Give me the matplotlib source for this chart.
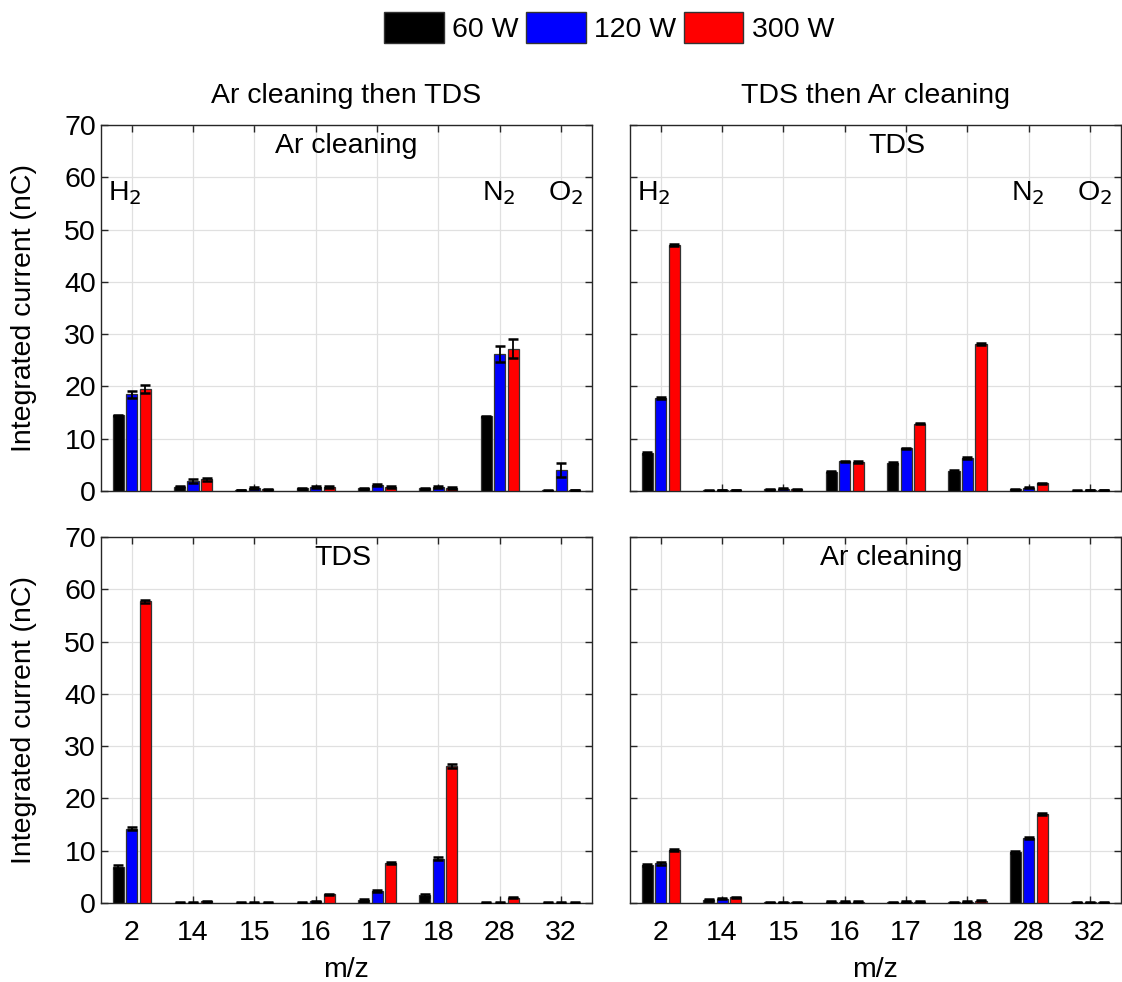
import numpy as np
import matplotlib
matplotlib.use('Agg')
import matplotlib.pyplot as plt
from matplotlib.patches import Patch

plt.rcParams['font.family'] = ['Liberation Sans', 'DejaVu Sans']

# Данные
mz_labels = ['2', '14', '15', '16', '17', '18', '28', '32']
powers = ['60 W', '120 W', '300 W']
colors = ['#000000', '#0000ff', '#ff0000']

# Ar cleaning then TDS: Ar cleaning
ar1_60 = [14.5, 0.85, 0.15, 0.5, 0.5, 0.5, 14.3, 0.1]
ar1_120 = [18.5, 1.9, 0.5, 0.85, 1.1, 0.8, 26.2, 4.0]
ar1_300 = [19.5, 2.2, 0.3, 0.85, 0.85, 0.65, 27.2, 0.15]
ar1_err_60 = [0.1, 0.1, 0.05, 0.05, 0.05, 0.05, 0.1, 0.05]
ar1_err_120 = [0.7, 0.3, 0.2, 0.2, 0.2, 0.2, 1.6, 1.4]
ar1_err_300 = [0.7, 0.2, 0.1, 0.2, 0.2, 0.2, 1.8, 0.05]

# Ar cleaning then TDS: TDS
tds1_60 = [6.9, 0.05, 0.05, 0.05, 0.5, 1.5, 0.0, 0.05]
tds1_120 = [14.2, 0.05, 0.05, 0.3, 2.25, 8.5, 0.0, 0.05]
tds1_300 = [57.7, 0.3, 0.05, 1.7, 7.6, 26.2, 1.0, 0.05]
tds1_err = [0.3, 0.05, 0.05, 0.1, 0.2, 0.3, 0.1, 0.05]

# TDS then Ar cleaning: TDS
tds2_60 = [7.2, 0.1, 0.3, 3.7, 5.35, 3.8, 0.3, 0.05]
tds2_120 = [17.8, 0.15, 0.45, 5.7, 8.15, 6.25, 0.65, 0.15]
tds2_300 = [47.0, 0.15, 0.3, 5.55, 12.9, 28.1, 1.45, 0.15]
tds2_err = [0.2, 0.05, 0.1, 0.1, 0.15, 0.2, 0.1, 0.05]

# TDS then Ar cleaning: Ar cleaning
ar2_60 = [7.2, 0.65, 0.1, 0.25, 0.1, 0.1, 9.75, 0.1]
ar2_120 = [7.55, 0.85, 0.1, 0.25, 0.25, 0.25, 12.45, 0.1]
ar2_300 = [10.05, 1.05, 0.1, 0.25, 0.25, 0.4, 17.0, 0.1]
ar2_err = [0.2, 0.1, 0.05, 0.05, 0.05, 0.1, 0.25, 0.05]

x = np.arange(1, len(mz_labels) + 1)
width = 0.18
offset = 0.22
fs = 20.5

fig = plt.figure(figsize=(11.22, 9.82), dpi=100)
ax_tl = fig.add_axes([0.090, 0.500, 0.4375, 0.3727])
ax_tr = fig.add_axes([0.5615, 0.500, 0.4375, 0.3727])
ax_bl = fig.add_axes([0.090, 0.0805, 0.4375, 0.3727])
ax_br = fig.add_axes([0.5615, 0.0805, 0.4375, 0.3727])


def draw_panel(ax, series, errors, label, label_x):
    for i, (vals, err) in enumerate(zip(series, errors)):
        pos = x + (i - 1) * offset
        ax.bar(pos, vals, width=width, color=colors[i], edgecolor='#333333',
               linewidth=0.9, zorder=3)
        ax.errorbar(pos, vals, yerr=err, fmt='none', ecolor='black',
                    elinewidth=1.3, capsize=3.6, capthick=1.8, zorder=4)
    ax.set_xlim(0.5, 8.5)
    ax.set_ylim(0, 70)
    ax.set_xticks(x)
    ax.set_yticks(np.arange(0, 71, 10))
    ax.grid(True, color='#e0e0e0', linewidth=0.9, zorder=0)
    ax.set_axisbelow(True)
    ax.tick_params(direction='in', top=True, right=True, length=5,
                   width=1, color='#262626', labelsize=fs)
    for s in ax.spines.values():
        s.set_color('#262626')
        s.set_linewidth(1.0)
    ax.text(label_x, 66, label, ha='center', va='center', fontsize=fs)


draw_panel(ax_tl, [ar1_60, ar1_120, ar1_300],
           [ar1_err_60, ar1_err_120, ar1_err_300], 'Ar cleaning', 4.5)
draw_panel(ax_tr, [tds2_60, tds2_120, tds2_300],
           [tds2_err, tds2_err, tds2_err], 'TDS', 4.85)
draw_panel(ax_bl, [tds1_60, tds1_120, tds1_300],
           [tds1_err, tds1_err, tds1_err], 'TDS', 4.45)
draw_panel(ax_br, [ar2_60, ar2_120, ar2_300],
           [ar2_err, ar2_err, ar2_err], 'Ar cleaning', 4.75)

# Подписи газов
for ax in [ax_tl, ax_tr]:
    ax.text(0.89, 57, 'H$_2$', ha='center', va='center', fontsize=fs)
    ax.text(6.98, 57, 'N$_2$', ha='center', va='center', fontsize=fs)
    ax.text(8.07, 57, 'O$_2$', ha='center', va='center', fontsize=fs)
    ax.set_xticklabels([])

for ax in [ax_bl, ax_br]:
    ax.set_xticklabels(mz_labels)
    ax.set_xlabel('m/z', fontsize=fs, labelpad=8)
    ax.tick_params(axis='x', pad=12)

for ax in [ax_tr, ax_br]:
    ax.set_yticklabels([])

for ax in [ax_tl, ax_bl]:
    ax.set_ylabel('Integrated current (nC)', fontsize=fs, labelpad=20)

ax_tl.set_title('Ar cleaning then TDS', fontsize=fs, pad=16)
ax_tr.set_title('TDS then Ar cleaning', fontsize=fs, pad=16)

handles = [Patch(facecolor=c, edgecolor='#333333', label=p)
           for c, p in zip(colors, powers)]
fig.legend(handles=handles, ncol=3, loc='upper center',
           bbox_to_anchor=(0.543, 1.014), frameon=False, fontsize=fs,
           handlelength=2.1, handleheight=1.3, handletextpad=0.3,
           columnspacing=0.25)

plt.savefig('out.png', dpi=100)
